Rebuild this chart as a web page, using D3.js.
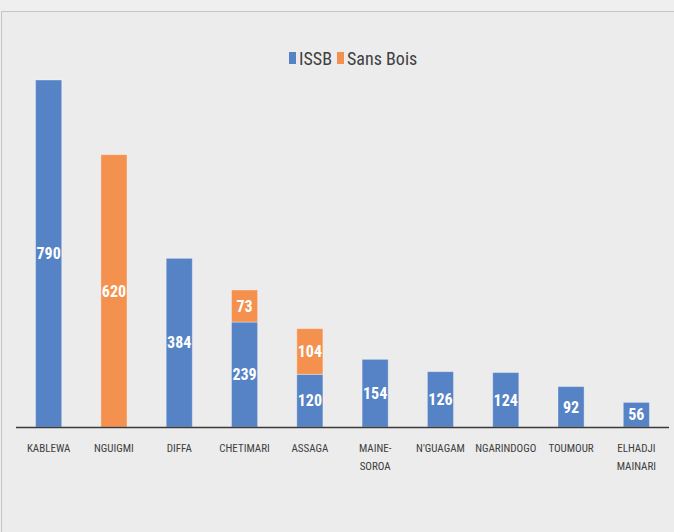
<!DOCTYPE html>
<html>
<head>
<meta charset="utf-8">
<script src="https://cdn.jsdelivr.net/npm/d3@7"></script>
<style>
  body { margin: 0; background: #eeeeee; }
  text { font-family: "Liberation Sans Narrow", "Roboto Condensed", "Liberation Sans", sans-serif; }
</style>
</head>
<body>
<div id="chart-area"></div>
<script>
const W = 674, H = 532

const categories = ["KABLEWA", "NGUIGMI", "DIFFA", "CHETIMARI", "ASSAGA", "MAINE-SOROA", "N'GUAGAM", "NGARINDOGO", "TOUMOUR", "ELHADJI MAINARI"]
const issb = [790, 0, 384, 239, 120, 154, 126, 124, 92, 56]
const sansBois = [0, 620, 0, 73, 104, 0, 0, 0, 0, 0]
const seriesNames = ["ISSB", "Sans Bois"]
const colors = ["#5583c5", "#f4914f"]

const svg = d3.select("#chart-area").append("svg")
  .attr("width", W)
  .attr("height", H)

// panel + border
svg.append("rect").attr("width", W).attr("height", H).attr("fill", "#efefef")
svg.append("rect")
  .attr("x", 1.5).attr("y", 11.5)
  .attr("width", W + 10).attr("height", H + 10)
  .attr("fill", "#ececec")
  .attr("stroke", "#c4c4c4")

const x = d3.scaleBand()
  .domain(categories)
  .range([16, 669])
  .paddingInner(0.6)
  .paddingOuter(0.3)

const y = d3.scaleLinear()
  .domain([0, 790])
  .range([427, 80])

const table = categories.map((c, i) => ({ cat: c, "ISSB": issb[i], "Sans Bois": sansBois[i] }))
const stacked = d3.stack().keys(seriesNames)(table)

const layers = svg.selectAll("g.layer")
  .data(stacked)
  .enter().append("g")
  .attr("class", "layer")
  .attr("fill", (d, i) => colors[i])

layers.selectAll("rect")
  .data(d => d.filter(s => s[1] - s[0] > 0))
  .enter().append("rect")
  .attr("x", d => x(d.data.cat))
  .attr("width", x.bandwidth())
  .attr("y", d => y(d[1]))
  .attr("height", d => y(d[0]) - y(d[1]))
  .attr("stroke", "#ffffff")
  .attr("stroke-opacity", 0.35)
  .attr("stroke-width", 1)

// value labels
layers.selectAll("text")
  .data(d => d.filter(s => s[1] - s[0] > 0))
  .enter().append("text")
  .attr("x", d => x(d.data.cat) + x.bandwidth() / 2)
  .attr("y", d => (y(d[0]) + y(d[1])) / 2)
  .attr("dy", "0.36em")
  .attr("text-anchor", "middle")
  .attr("fill", "#ffffff")
  .attr("font-size", "16px")
  .attr("font-weight", "bold")
  .text(d => d[1] - d[0])

// x axis line
svg.append("line")
  .attr("x1", 16).attr("x2", 669)
  .attr("y1", 427.5).attr("y2", 427.5)
  .attr("stroke", "#3a3a3a")
  .attr("stroke-width", 1.5)

// category labels (two lines where needed)
const catLabels = svg.selectAll("text.cat")
  .data(categories)
  .enter().append("text")
  .attr("class", "cat")
  .attr("text-anchor", "middle")
  .attr("fill", "#404040")
  .attr("font-size", "11px")
  .attr("y", 452)

catLabels.each(function (d) {
  let parts = d.split(" ")
  if (d === "MAINE-SOROA") parts = ["MAINE-", "SOROA"]
  const cx = x(d) + x.bandwidth() / 2
  parts.forEach((p, i) => {
    d3.select(this).append("tspan")
      .attr("x", cx)
      .attr("dy", i === 0 ? 0 : 18)
      .text(p)
  })
})

// legend
const legend = svg.append("g").attr("transform", "translate(289, 52)")
const legX = [0, 48]
seriesNames.forEach((s, i) => {
  legend.append("rect")
    .attr("x", legX[i]).attr("y", 0)
    .attr("width", 7).attr("height", 12)
    .attr("fill", colors[i])
  legend.append("text")
    .attr("x", legX[i] + 10).attr("y", 13)
    .attr("fill", "#404040")
    .attr("font-size", "18px")
    .text(s)
})
</script>
</body>
</html>
